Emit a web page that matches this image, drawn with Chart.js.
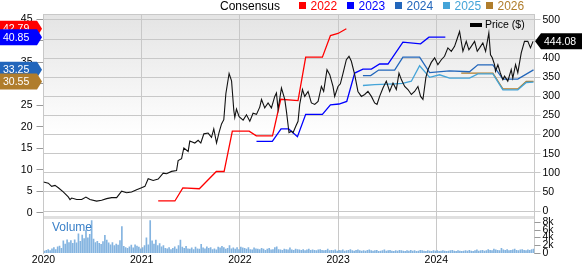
<!DOCTYPE html>
<html>
<head>
<meta charset="utf-8">
<script src="https://cdn.jsdelivr.net/npm/chart.js@4.4.1/dist/chart.umd.min.js"></script>
<style>
  html, body { margin: 0; padding: 0; background: #fff; }
  #wrap { width: 582px; height: 264px; position: relative; }
</style>
</head>
<body>
<div id="wrap"><canvas id="chart" width="582" height="264"></canvas></div>
<script>
// price (right axis, $), x in decimal years
const priceYears = [
  2020.000,2020.049,2020.083,2020.117,2020.151,2020.201,2020.252,2020.270,2020.287,2020.338,
  2020.389,2020.432,2020.473,2020.541,2020.592,2020.643,2020.694,2020.745,2020.796,2020.846,
  2020.897,2020.948,2020.999,2021.033,2021.066,2021.117,2021.168,2021.219,2021.253,2021.304,
  2021.355,2021.371,2021.406,2021.429,2021.473,2021.490,2021.541,2021.575,2021.602,2021.633,
  2021.676,2021.711,2021.734,2021.762,2021.788,2021.813,2021.836,2021.857,2021.890,2021.915,
  2021.938,2021.948,2021.965,2021.992,2022.033,2022.067,2022.101,2022.134,2022.169,2022.202,
  2022.220,2022.253,2022.287,2022.321,2022.355,2022.372,2022.389,2022.423,2022.457,2022.474,
  2022.500,2022.525,2022.541,2022.569,2022.592,2022.609,2022.637,2022.660,2022.694,2022.728,
  2022.762,2022.796,2022.830,2022.853,2022.887,2022.915,2022.948,2022.965,2022.999,2023.023,
  2023.050,2023.084,2023.111,2023.135,2023.169,2023.202,2023.237,2023.271,2023.304,2023.339,
  2023.372,2023.396,2023.423,2023.457,2023.491,2023.525,2023.559,2023.593,2023.620,2023.644,
  2023.678,2023.711,2023.746,2023.779,2023.813,2023.840,2023.864,2023.894,2023.915,2023.949,
  2023.983,2024.016,2024.051,2024.084,2024.118,2024.153,2024.186,2024.210,2024.237,2024.271,
  2024.305,2024.332,2024.356,2024.390,2024.417,2024.441,2024.474,2024.502,2024.535,2024.552,
  2024.570,2024.593,2024.603,2024.627,2024.651,2024.678,2024.695,2024.728,2024.763,2024.779,
  2024.807,2024.830,2024.865,2024.898,2024.932,2024.959,2024.985
];
const priceValues = [
  76,73,64.5,67,61,50,37,30,34,30,
  30,36.6,30,26,28,32.4,35,35,52,48,
  49.6,55.9,61,64.5,84.6,80,83.6,99,97.7,103.7,
  106,132,137,165,156,183,178,185,178,202,
  204,193,215,178,206,228,239,307,360,341,
  263,245,267,247,238,252,235,256,253,272,
  292,270,283,270,300,309,266,322,292,261,
  205,209,205,222,235,279,318,300,313,283,
  279,287,326,313,370,357,326,300,326,333,
  360,396,405,392,357,313,300,305,313,300,
  283,279,300,322,340,313,335,318,361,344,
  326,318,305,313,326,300,292,350,370,389,
  401,383,396,405,427,418,431,449,470,418,
  444,422,431,444,418,427,440,418,466,409,
  401,383,366,383,362,344,353,340,370,348,
  383,362,414,444,444,427,444.08
];

// consensus EPS estimates (left axis)
const years2022 = [2021.168,2021.338,2021.419,2021.587,2021.760,2021.839,2021.923,2022.094,2022.167,2022.332,2022.416,2022.592,2022.670,2022.840,2022.922,2022.999,2023.084];
const eps2022 = [2.75,2.75,5.8,5.6,9.6,9.6,19.0,19.0,17.9,17.9,26.4,26.1,36.2,36.2,41.2,41.7,42.79];

const years2023 = [2022.169,2022.330,2022.419,2022.497,2022.586,2022.670,2022.840,2022.922,2023.009,2023.088,2023.169,2023.253,2023.339,2023.423,2023.508,2023.660,2023.840,2023.925,2024.092];
const eps2023 = [16.6,16.6,19.5,19.5,17.7,22.9,22.9,25.1,25.3,25.9,32.5,33.4,33.4,34.6,34.6,39.7,39.3,40.85,40.85];

const years2024 = [2023.253,2023.332,2023.413,2023.576,2023.660,2023.830,2023.932,2024.135,2024.338,2024.423,2024.576,2024.678,2024.830,2024.990];
const eps2024 = [31.9,31.9,33.2,33.2,36.2,36.2,32.6,33.0,32.8,34.4,34.4,31.1,31.1,33.25];

const years2025 = [2023.253,2023.372,2023.576,2023.657,2023.746,2023.830,2023.932,2024.033,2024.135,2024.338,2024.423,2024.576,2024.678,2024.830,2024.916,2024.990];
const eps2025 = [29.6,29.8,30.0,30.1,30.6,34.2,31.5,32.1,31.3,31.3,32.3,32.3,28.6,28.6,30.3,30.4];

const years2026 = [2024.254,2024.576,2024.678,2024.830,2024.916,2024.990];
const eps2026 = [32.5,32.5,28.8,28.8,30.55,30.55];

// weekly volume (thousands), Jan 2020 .. Dec 2024
const volumeK = [
  0.5,0.7,0.9,0.6,1.1,1.4,0.9,1.6,1.8,1.2,3.1,2.3,3.4,
  2.7,3.2,2.5,3.4,2.6,4.9,3.0,4.6,3.7,5.9,3.9,4.8,8.3,
  3.6,2.7,3.0,2.5,2.2,2.9,4.5,3.3,2.6,2.1,2.7,1.9,2.3,
  2.0,3.2,6.8,1.7,1.4,1.2,1.6,2.0,1.3,2.1,1.8,1.5,1.1,
  1.4,1.9,3.9,2.1,8.3,3.1,2.3,3.3,1.9,2.4,1.6,1.9,1.2,
  1.1,1.4,0.9,1.2,1.6,1.0,1.9,3.3,1.5,1.2,1.7,1.1,1.0,
  1.3,0.9,1.5,1.1,1.0,2.2,1.3,1.1,1.6,1.2,1.4,0.9,1.1,
  0.8,1.5,1.3,1.7,1.4,1.0,1.2,1.9,1.1,1.3,1.0,1.4,0.9,
  1.5,1.3,1.2,1.0,1.4,0.9,0.8,1.3,1.1,1.0,0.9,1.2,1.0,
  0.7,1.0,1.2,0.8,0.9,1.4,1.6,0.9,0.8,0.7,1.0,0.9,0.8,
  1.3,0.8,0.7,1.0,0.9,0.8,0.7,0.9,0.6,0.8,1.0,0.7,0.8,
  0.7,0.6,0.8,0.9,0.7,0.6,0.7,1.0,0.6,0.7,0.6,0.8,0.5,
  0.7,0.6,0.8,0.5,0.6,0.7,0.9,0.6,0.5,0.7,0.8,0.6,0.5,
  0.6,0.5,0.7,0.8,0.6,0.5,0.6,0.7,0.4,0.5,0.6,0.8,0.5,
  0.6,0.7,0.5,0.4,0.6,0.5,0.7,0.6,0.5,0.4,0.6,0.5,0.7,
  0.5,0.6,0.4,0.5,0.7,0.6,0.5,0.4,0.6,0.5,0.4,0.6,0.5,
  0.6,0.4,0.5,0.6,0.5,0.4,0.5,0.6,0.7,0.5,0.4,0.6,0.5,
  0.4,0.5,0.6,0.5,0.7,0.5,0.4,0.6,0.8,0.5,0.6,0.7,0.5,
  0.6,0.9,0.7,0.6,1.0,0.8,0.7,0.6,1.2,0.8,0.7,0.9,0.6,
  0.7,0.8,1.0,0.7,0.6,0.8,0.9,0.7,0.6,0.8,0.7,0.9,1.0
];

const yearTicks = [2020, 2021, 2022, 2023, 2024];
const epsTicks = [0, 5, 10, 15, 20, 25, 30, 35, 40, 45];
const priceTicks = [0, 50, 100, 150, 200, 250, 300, 350, 400, 450, 500];
const volumeTicks = [0, 2, 4, 6, 8];

const seriesNames = ["2022", "2023", "2024", "2025", "2026"];
const seriesColors = ["#ff0000", "#0000ff", "#2266bb", "#44a4d8", "#b07d2c"];
const seriesTagged = [true, true, true, false, true];

const FONT = "'Liberation Sans', Arial, sans-serif";
const GRID = "#c8c8c8";
Chart.defaults.font.family = FONT;
Chart.defaults.color = "#000";

const zip = (xs, ys) => xs.map((x, i) => ({ x, y: ys[i] }));
const epsSets = [
  zip(years2022, eps2022),
  zip(years2023, eps2023),
  zip(years2024, eps2024),
  zip(years2025, eps2025),
  zip(years2026, eps2026),
];
const volumeData = volumeK.map((v, i) => ({ x: 2020 + (i + 0.5) / 52, y: v }));

const fixTicks = (list) => (scale) => {
  scale.ticks = list.map((v) => ({ value: v }));
};

const panels = {
  id: "panels",
  beforeDraw(chart) {
    const { ctx, chartArea: a, scales } = chart;
    const sepY = scales.yP.getPixelForValue(-13);
    const g = ctx.createLinearGradient(0, a.top, 0, sepY);
    g.addColorStop(0, "#e4e4e4");
    g.addColorStop(0.6, "#ffffff");
    ctx.save();
    ctx.fillStyle = g;
    ctx.fillRect(a.left, a.top, a.right - a.left, sepY - a.top);
    ctx.fillStyle = "#e0e0e0";
    ctx.fillRect(a.left, sepY, a.right - a.left, 3);
    ctx.strokeStyle = GRID;
    ctx.lineWidth = 1;
    ctx.beginPath();
    ctx.moveTo(a.left, a.top + 0.5);
    ctx.lineTo(a.right, a.top + 0.5);
    ctx.stroke();
    ctx.restore();
  },
  afterDraw(chart) {
    const { ctx, chartArea: a, scales } = chart;
    ctx.save();

    // legend row
    ctx.font = "12px " + FONT;
    ctx.textBaseline = "alphabetic";
    ctx.fillStyle = "#000";
    ctx.fillText("Consensus", 220, 9.5);
    const legendX = [299, 347, 395, 443, 486];
    seriesNames.forEach((name, i) => {
      ctx.fillStyle = seriesColors[i];
      ctx.fillRect(legendX[i], 2, 7, 7);
      ctx.fillText(name, legendX[i] + 11.5, 9.5);
    });

    // price legend
    ctx.fillStyle = "#000";
    ctx.fillRect(470, 23, 12, 4);
    ctx.font = "10.5px " + FONT;
    ctx.textBaseline = "middle";
    ctx.fillText("Price ($)", 485, 25.5);

    // volume label and axis
    ctx.font = "12px " + FONT;
    ctx.fillStyle = "#3a80c8";
    ctx.fillText("Volume", 52, 228);
    ctx.font = "10.5px " + FONT;
    ctx.strokeStyle = "#999";
    ctx.lineWidth = 1;
    volumeTicks.forEach((v) => {
      const y = Math.round(scales.yV.getPixelForValue(v)) + 0.5;
      ctx.beginPath();
      ctx.moveTo(a.right, y);
      ctx.lineTo(a.right + 6, y);
      ctx.stroke();
      ctx.fillStyle = "#000";
      ctx.fillText(v ? v + "k" : "0", a.right + 8, y);
    });

    // last-value tags for consensus
    epsSets.forEach((set, i) => {
      if (!seriesTagged[i]) return;
      const last = set[set.length - 1].y;
      const y = scales.yE.getPixelForValue(last);
      ctx.fillStyle = seriesColors[i];
      ctx.beginPath();
      ctx.moveTo(0, y - 8);
      ctx.lineTo(37, y - 8);
      ctx.lineTo(42, y);
      ctx.lineTo(37, y + 8);
      ctx.lineTo(0, y + 8);
      ctx.closePath();
      ctx.fill();
      ctx.fillStyle = "#fff";
      ctx.fillText(last.toFixed(2), 3, y + 0.5);
    });

    // last price tag
    const lastPrice = priceValues[priceValues.length - 1];
    const py = scales.yP.getPixelForValue(lastPrice);
    ctx.fillStyle = "#000";
    ctx.beginPath();
    ctx.moveTo(535, py);
    ctx.lineTo(541, py - 8);
    ctx.lineTo(582, py - 8);
    ctx.lineTo(582, py + 8);
    ctx.lineTo(541, py + 8);
    ctx.closePath();
    ctx.fill();
    ctx.fillStyle = "#fff";
    ctx.fillText(lastPrice.toFixed(2), 544, py + 0.5);

    ctx.restore();
  },
};

new Chart(document.getElementById("chart"), {
  type: "line",
  data: {
    datasets: [
      {
        data: zip(priceYears, priceValues),
        yAxisID: "yP",
        borderColor: "#111",
        borderWidth: 1.1,
        pointRadius: 0,
        tension: 0,
      },
      ...epsSets.map((set, i) => ({
        data: set,
        yAxisID: "yE",
        borderColor: seriesColors[i],
        borderWidth: 1.3,
        pointRadius: 0,
        tension: 0,
      })),
      {
        type: "bar",
        data: volumeData,
        yAxisID: "yV",
        backgroundColor: "#84b4e0",
        barThickness: 1,
        grouped: false,
      },
    ],
  },
  options: {
    responsive: false,
    animation: false,
    devicePixelRatio: 1,
    layout: { padding: { top: 14, left: 0, right: 0, bottom: 0 } },
    plugins: { legend: { display: false }, tooltip: { enabled: false } },
    scales: {
      x: {
        type: "linear",
        min: 2020,
        max: 2025,
        offset: false,
        afterBuildTicks: fixTicks(yearTicks),
        afterFit: (s) => { s.height = 11; },
        grid: { color: GRID, drawTicks: false, offset: false },
        border: { display: false },
        ticks: {
          autoSkip: false,
          maxRotation: 0,
          padding: 1,
          font: { size: 10.5 },
          callback: (v) => String(v),
        },
      },
      yE: {
        position: "left",
        min: -9.35,
        max: 46.23,
        afterBuildTicks: fixTicks(epsTicks),
        afterFit: (s) => { s.width = 43.5; },
        grid: { drawOnChartArea: false, tickLength: 7, color: "#999" },
        border: { display: true, color: GRID },
        ticks: { autoSkip: false, padding: 4, font: { size: 10.5 } },
      },
      yP: {
        position: "right",
        min: -109.9,
        max: 515.7,
        afterBuildTicks: fixTicks(priceTicks),
        afterFit: (s) => { s.width = 47.5; },
        grid: { color: GRID, tickLength: 6 },
        border: { display: true, color: GRID },
        ticks: { autoSkip: false, padding: 2, font: { size: 10.5 } },
      },
      yV: {
        display: false,
        min: 0,
        max: 61.28,
      },
    },
  },
  plugins: [panels],
});
</script>
</body>
</html>
